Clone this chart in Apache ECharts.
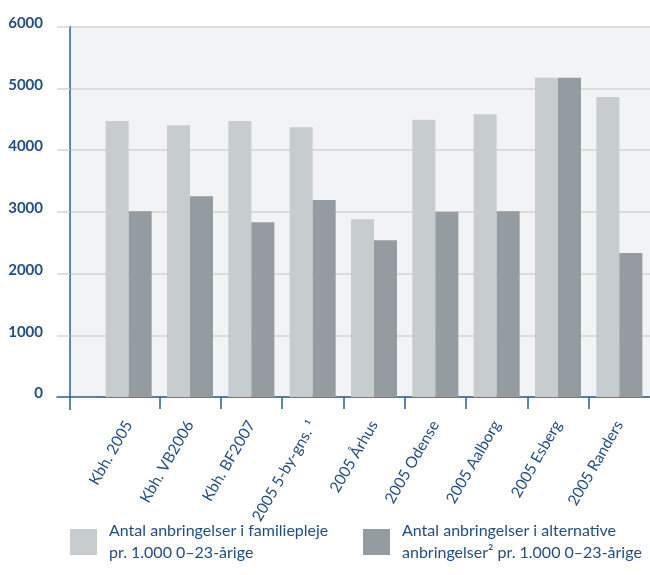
<!DOCTYPE html>
<html><head><meta charset="utf-8">
<script src="https://cdn.jsdelivr.net/npm/echarts@6/dist/echarts.min.js"></script>
<style>html,body{margin:0;padding:0;background:#fff}#c{width:650px;height:575px}</style>
</head><body><div id="c"></div>
<script>
const categories = ['Kbh. 2005', 'Kbh. VB2006', 'Kbh. BF2007', '2005 5-by-gns. ¹', '2005 Århus', '2005 Odense', '2005 Aalborg', '2005 Esberg', '2005 Randers'];
const familieplejeValues = [4470, 4400, 4470, 4370, 2880, 4490, 4580, 5170, 4860];
const alternativeValues = [3010, 3250, 2830, 3190, 2540, 3000, 3010, 5170, 2330];
const yTicks = [0, 1000, 2000, 3000, 4000, 5000, 6000];
const seriesNames = ['Antal anbringelser i familiepleje pr. 1.000 0–23-årige', 'Antal anbringelser i alternative anbringelser² pr. 1.000 0–23-årige'];
const legendLines = [['Antal anbringelser i familiepleje', 'pr. 1.000 0–23-årige'], ['Antal anbringelser i alternative', 'anbringelser² pr. 1.000 0–23-årige']];

const blue = '#1f4e84';
const axisBlue = '#2b5f96';
const gridGrey = '#d2d5d8';
const bg = '#f2f3f5';
const colors = ['#c7cccf', '#949ba1'];
const yMin = yTicks[0], yMax = yTicks[yTicks.length - 1], yStep = yTicks[1] - yTicks[0];
// category boundaries (between bar groups) for the tick marks
const boundaryTicks = categories.slice(1).map((c, i) => i + 1);

const chart = echarts.init(document.getElementById('c'), null, {renderer: 'canvas'});
const legendBase = (i, left) => ({
  data: [seriesNames[i]], left: left, top: 509, padding: 0, icon: 'rect',
  itemWidth: 27, itemHeight: 26, selectedMode: false,
  formatter: () => legendLines[i].join('\n'),
  textStyle: {color: blue, fontSize: 16, lineHeight: 22, fontFamily: 'Lato', padding: [22, 0, 0, 7]}
});
const plotRect = {top: 26.5, bottom: 178};
chart.setOption({
  animation: false,
  textStyle: {fontFamily: 'Lato'},
  grid: [
    Object.assign({left: 98, right: -2, show: true, backgroundColor: bg, borderWidth: 0}, plotRect),
    Object.assign({left: 70, width: 28, show: true, backgroundColor: bg, borderWidth: 0}, plotRect),
    Object.assign({left: 57, width: 41, show: false}, plotRect),
    Object.assign({left: 98, right: -2, show: false}, plotRect)
  ],
  xAxis: [
    {gridIndex: 0, type: 'category', data: categories,
     axisLine: {lineStyle: {color: axisBlue, width: 1.5}},
     axisTick: {show: false},
     axisLabel: {rotate: 60, interval: 0, color: blue, fontSize: 15.5, margin: 25}},
    {gridIndex: 1, type: 'value', min: 0, max: 1, show: false},
    {gridIndex: 2, type: 'value', min: 0, max: 41, splitLine: {show: false},
     axisLine: {lineStyle: {color: axisBlue, width: 1.5}},
     axisTick: {customValues: [13], length: 13, lineStyle: {color: axisBlue, width: 1.5}},
     axisLabel: {show: false}},
    {gridIndex: 3, type: 'value', min: 0, max: categories.length, splitLine: {show: false},
     axisLine: {show: false},
     axisTick: {customValues: boundaryTicks, length: 12, lineStyle: {color: axisBlue, width: 1.5}},
     axisLabel: {show: false}}
  ],
  yAxis: [
    {gridIndex: 0, type: 'value', min: yMin, max: yMax, interval: yStep,
     axisLabel: {show: false}, axisLine: {show: false}, axisTick: {show: false},
     splitLine: {lineStyle: {color: gridGrey, width: 1.5}}},
    {gridIndex: 1, type: 'value', min: yMin, max: yMax, interval: yStep,
     axisLine: {show: true, lineStyle: {color: axisBlue, width: 1.5}},
     axisTick: {show: true, length: 13, customValues: yTicks.slice(1), lineStyle: {color: gridGrey, width: 1.5}},
     axisLabel: {color: blue, fontSize: 15, fontWeight: 'bold', margin: 27, verticalAlign: 'bottom', lineHeight: 7,
                 formatter: (v) => String(v)},
     splitLine: {lineStyle: {color: gridGrey, width: 1.5}}},
    {gridIndex: 2, type: 'value', min: yMin, max: yMax, show: false},
    {gridIndex: 3, type: 'value', min: yMin, max: yMax, show: false}
  ],
  legend: [legendBase(0, 70), legendBase(1, 363)],
  series: [
    {name: seriesNames[0], type: 'bar', xAxisIndex: 0, yAxisIndex: 0, data: familieplejeValues,
     barWidth: 23, barGap: '0%', itemStyle: {color: colors[0]}},
    {name: seriesNames[1], type: 'bar', xAxisIndex: 0, yAxisIndex: 0, data: alternativeValues,
     barWidth: 23, barGap: '0%', itemStyle: {color: colors[1]}}
  ]
});
</script></body></html>
